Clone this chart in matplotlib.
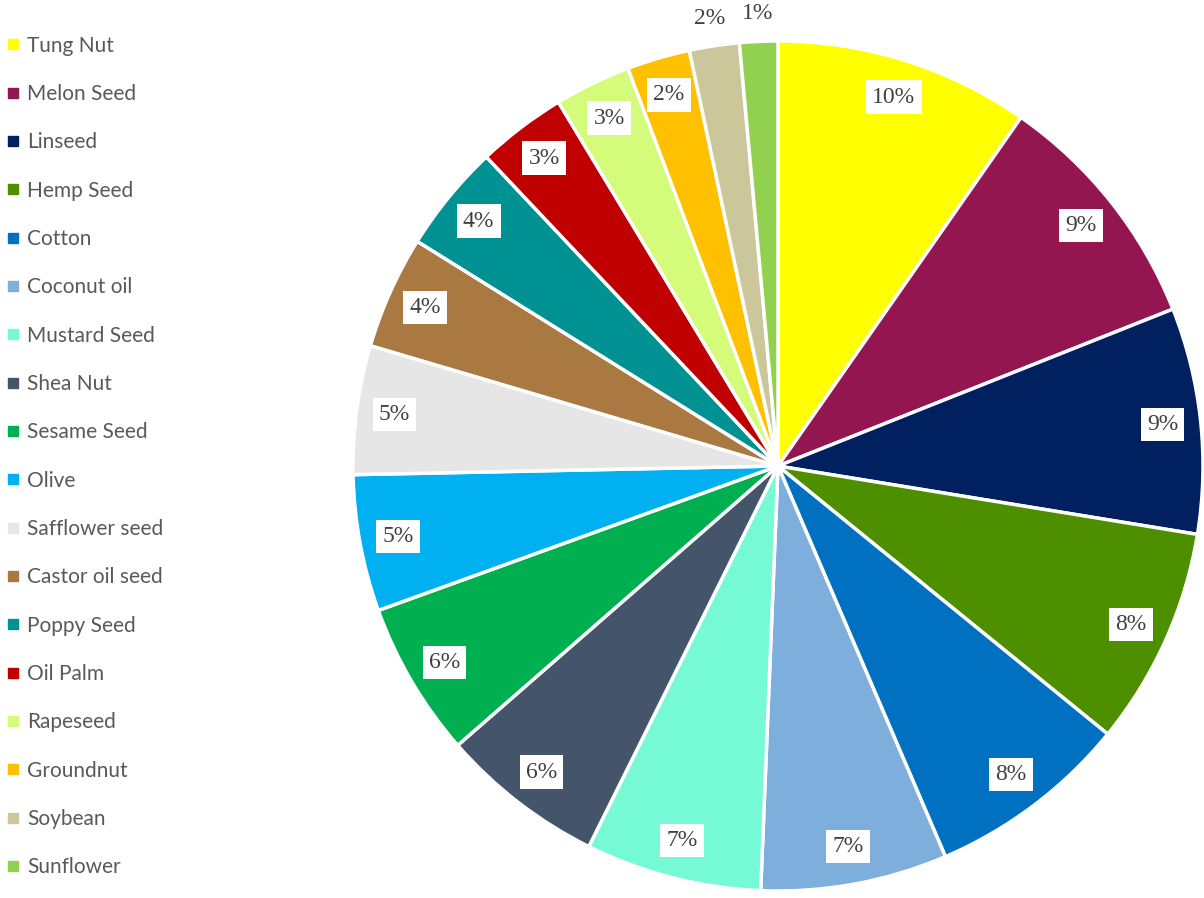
import matplotlib
matplotlib.use("Agg")
import matplotlib.pyplot as plt
from matplotlib.lines import Line2D
import numpy as np

categories = ["Tung Nut", "Melon Seed", "Linseed", "Hemp Seed", "Cotton", "Coconut oil",
              "Mustard Seed", "Shea Nut", "Sesame Seed", "Olive", "Safflower seed",
              "Castor oil seed", "Poppy Seed", "Oil Palm", "Rapeseed", "Groundnut",
              "Soybean", "Sunflower"]
values = [9.7, 9.3, 8.6, 8.3, 7.7, 7.1, 6.7, 6.25, 5.9, 5.2, 4.9, 4.3, 4.1, 3.4, 2.9, 2.4, 1.9, 1.45]
colors = ["#FFFF00", "#941651", "#002060", "#4E8F00", "#0070C0", "#7DAEDC",
          "#76FAD5", "#44546A", "#00B050", "#00B0F0", "#E6E6E6",
          "#AA7942", "#009193", "#C00000", "#D4FB79", "#FFC000",
          "#CBC79A", "#92D050"]
outside = {"Soybean", "Sunflower"}

fig = plt.figure(figsize=(12.04, 8.98), dpi=100)
cx, cy, r = 778 / 1204, 1 - 466 / 898, 425
ax = fig.add_axes([cx - r / 1204, cy - r / 898, 2 * r / 1204, 2 * r / 898])

total = sum(values)
wedges, texts, autotexts = ax.pie(
    values, colors=colors, startangle=90, counterclock=False,
    autopct=lambda p: f"{int(p + 0.5 - 1e-9) if p >= 1.5 else int(p)}%",
    pctdistance=0.91,
    wedgeprops=dict(edgecolor="white", linewidth=2.5),
    textprops=dict(fontfamily="Liberation Serif", fontsize=17, color="#404040"))
ax.set_xlim(-1, 1)
ax.set_ylim(-1, 1)
ax.set_aspect("equal")

cum = 0
for cat, v, t in zip(categories, values, autotexts):
    mid = 90 - (cum + v / 2) / total * 360
    cum += v
    if cat in outside:
        t.set_position((1.065 * np.cos(np.radians(mid)), 1.065 * np.sin(np.radians(mid))))
    else:
        t.set_bbox(dict(facecolor="white", edgecolor="none", pad=4.5))

handles = [Line2D([], [], marker="s", linestyle="none", markersize=6.5,
                  markerfacecolor=c, markeredgecolor=c) for c in colors]
fig.legend(handles, categories, loc="upper left", bbox_to_anchor=(0.0, 0.9695),
           frameon=False, prop=dict(family="Lato", size=15),
           labelcolor="#595959", labelspacing=1.36, handlelength=0.45,
           handletextpad=0.45, borderaxespad=0.0, borderpad=0.4)

fig.savefig("out.png", dpi=100)
